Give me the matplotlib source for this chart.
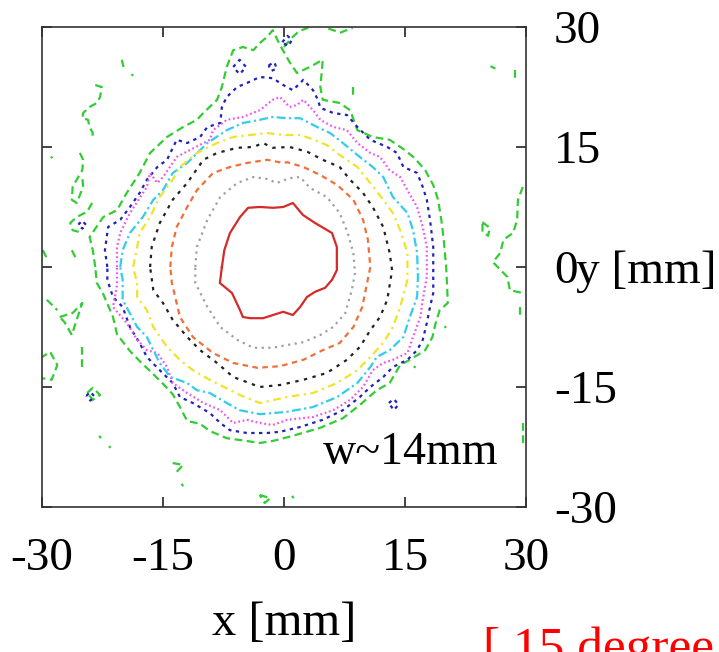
import matplotlib
matplotlib.use("Agg")
import numpy as np
import matplotlib.pyplot as plt

plt.rcParams['font.family'] = ['Liberation Serif', 'DejaVu Serif']

# contour lines of the beam spot, x / y in mm
red_level = [(-7.7, 0.0), (-7.4, 2.1), (-6.7, 4.25), (-5.45, 6.25), (-4.45, 7.4), (-3.0, 7.5),
             (-1.35, 7.4), (-0.1, 7.5), (1.1, 8.0), (2.35, 6.5), (3.85, 5.5), (5.95, 4.25),
             (6.55, 2.5), (6.55, -0.4), (5.95, -1.6), (5.1, -2.6), (3.85, -3.1), (2.85, -3.75),
             (2.0, -5.0), (1.1, -6.0), (-0.1, -5.6), (-1.35, -6.0), (-2.6, -6.4), (-4.2, -6.4),
             (-5.1, -6.25), (-5.45, -5.4), (-6.45, -3.25), (-7.95, -2.0), (-7.7, 0.0)]

gray_level = [(-11.0, 0.0), (-10.8, 2.5), (-9.5, 5.9), (-7.9, 8.75), (-5.8, 10.5), (-3.8, 11.25),
              (-2.1, 11.0), (-0.9, 10.5), (0.7, 11.1), (2.0, 11.25), (3.2, 9.9), (5.3, 8.75),
              (6.9, 6.75), (7.9, 4.25), (8.6, 1.75), (8.8, -0.75), (8.4, -2.9), (7.6, -5.75),
              (6.1, -7.5), (4.5, -8.5), (2.4, -9.4), (0.4, -9.75), (-1.4, -10.1), (-3.8, -10.1),
              (-5.8, -9.1), (-7.9, -7.5), (-9.5, -5.0), (-11.0, -2.0), (-11.0, 0.0)]

orange_level = [(-14.1, 0.0), (-13.9, 2.5), (-13.3, 5.0), (-12.0, 7.5), (-10.8, 9.6), (-8.8, 11.75),
                (-6.7, 12.5), (-4.6, 13.0), (-2.1, 13.4), (-0.1, 13.0), (0.4, 13.1), (2.4, 12.5),
                (4.5, 11.5), (6.6, 10.25), (8.6, 8.4), (9.8, 5.9), (10.4, 3.4), (10.7, 0.0),
                (10.3, -2.0), (9.7, -5.0), (8.6, -7.5), (6.9, -9.5), (4.8, -10.4), (2.4, -11.6),
                (-0.5, -12.4), (-3.3, -12.6), (-6.3, -12.0), (-8.8, -10.75), (-11.3, -8.75),
                (-12.9, -6.25), (-13.9, -2.0), (-14.1, 0.0)]

black_level = [(-16.6, 0.0), (-16.4, 2.5), (-15.4, 5.5), (-13.8, 8.4), (-12.0, 10.5), (-10.0, 13.4),
               (-8.3, 14.25), (-5.8, 14.9), (-3.8, 15.0), (-2.6, 15.5), (-1.4, 14.9), (0.7, 15.0),
               (2.9, 14.4), (4.8, 13.4), (6.9, 12.5), (8.2, 10.9), (9.8, 9.25), (11.0, 7.5),
               (12.3, 5.0), (13.1, 1.75), (13.4, -0.4), (12.8, -4.1), (11.9, -6.25), (10.7, -7.9),
               (9.4, -10.0), (7.8, -11.6), (5.3, -13.25), (2.4, -14.1), (-0.5, -14.75), (-3.0, -15.0),
               (-6.3, -13.75), (-8.3, -12.0), (-10.4, -10.4), (-12.0, -8.75), (-13.8, -6.6),
               (-15.0, -4.5), (-16.2, -2.9), (-16.6, 0.0)]

yellow_level = [(-18.7, 0.0), (-18.2, 2.5), (-17.9, 4.25), (-16.6, 6.25), (-15.4, 8.75), (-13.8, 10.9),
                (-12.9, 12.5), (-10.8, 14.25), (-8.3, 15.5), (-6.3, 16.25), (-4.2, 16.5), (-2.1, 16.75),
                (-0.1, 16.5), (2.0, 16.5), (3.2, 16.1), (5.3, 15.25), (6.9, 14.0), (9.1, 12.5),
                (10.7, 10.5), (12.3, 8.4), (13.5, 6.75), (14.4, 4.6), (15.3, 1.75), (15.3, -1.6),
                (14.4, -5.0), (13.5, -7.5), (12.3, -9.5), (10.7, -11.25), (9.1, -12.9), (6.6, -14.5),
                (3.6, -15.75), (0.4, -16.25), (-3.0, -17.0), (-5.5, -16.0), (-9.2, -14.1),
                (-11.3, -12.9), (-12.9, -11.6), (-14.5, -10.0), (-16.2, -7.5), (-17.0, -5.4),
                (-18.2, -3.75), (-18.2, -2.0), (-18.7, 0.0)]

cyan_level = [(-20.3, 0.0), (-20.0, 2.1), (-19.1, 4.25), (-17.5, 6.25), (-16.2, 8.4), (-15.0, 9.6),
              (-13.8, 11.75), (-12.0, 13.0), (-9.5, 15.5), (-7.1, 17.1), (-5.1, 18.0), (-3.0, 18.4),
              (-1.4, 18.75), (0.4, 18.6), (2.0, 18.6), (4.1, 17.5), (5.7, 16.75), (7.3, 15.5),
              (9.4, 13.75), (11.0, 12.5), (12.3, 11.25), (13.5, 8.75), (15.3, 6.75), (16.0, 4.6),
              (16.5, 1.75), (16.6, -1.25), (16.5, -3.75), (15.6, -6.25), (14.8, -8.75), (13.1, -10.4),
              (11.5, -11.25), (10.7, -12.5), (9.1, -14.5), (6.6, -16.25), (3.6, -17.5), (0.4, -18.1),
              (-3.0, -18.4), (-5.5, -17.9), (-7.1, -17.0), (-9.2, -15.75), (-10.8, -15.4),
              (-12.0, -14.5), (-14.1, -13.75), (-15.4, -12.0), (-16.2, -10.4), (-17.0, -8.75),
              (-18.2, -7.5), (-20.0, -4.1), (-20.0, -1.6), (-20.3, 0.0)]

magenta_level = [(-20.7, 0.0), (-20.7, 2.5), (-20.3, 4.25), (-19.1, 6.75), (-17.0, 10.0), (-16.6, 11.75),
                 (-15.7, 10.5), (-15.0, 11.25), (-13.3, 13.75), (-11.7, 14.6), (-9.2, 15.9), (-8.8, 17.1),
                 (-7.1, 18.4), (-5.1, 18.75), (-3.0, 19.6), (-1.4, 20.9), (-0.5, 21.25), (0.7, 20.0),
                 (1.6, 20.25), (2.4, 20.9), (3.6, 19.6), (4.5, 18.4), (6.1, 17.5), (7.8, 17.1),
                 (9.1, 15.5), (10.7, 14.25), (11.9, 13.75), (13.1, 12.1), (14.4, 11.25), (15.3, 9.6),
                 (16.5, 7.5), (17.2, 5.0), (17.7, 2.5), (17.7, -1.25), (17.2, -4.1), (16.9, -6.25),
                 (16.0, -8.75), (15.3, -10.75), (13.5, -11.6), (12.3, -12.0), (11.0, -12.9),
                 (9.8, -15.0), (8.2, -16.6), (6.1, -17.9), (3.6, -18.75), (0.4, -19.1), (-1.4, -19.75),
                 (-3.0, -19.5), (-4.6, -19.1), (-6.3, -19.5), (-7.9, -17.9), (-10.0, -17.0),
                 (-12.0, -15.75), (-13.8, -14.5), (-14.5, -12.5), (-15.7, -10.75), (-17.0, -10.4),
                 (-18.2, -9.1), (-19.5, -7.0), (-21.2, -5.0), (-20.7, -2.25), (-20.7, 0.0)]

blue_level = [(-21.9, 0.0), (-22.2, 2.1), (-21.8, 5.0), (-20.3, 5.9), (-19.1, 7.5), (-17.9, 9.25),
              (-17.0, 10.9), (-15.7, 12.5), (-14.5, 13.4), (-13.3, 15.9), (-12.0, 15.5), (-10.4, 16.25),
              (-9.5, 17.5), (-7.9, 18.0), (-7.7, 20.0), (-7.1, 21.25), (-5.8, 22.5), (-4.6, 23.0),
              (-3.0, 23.75), (-1.4, 23.6), (-0.1, 22.75), (1.1, 22.1), (2.4, 23.4), (3.6, 22.1),
              (4.2, 20.9), (4.5, 19.9), (6.1, 19.25), (7.8, 19.0), (9.1, 17.5), (10.7, 15.9),
              (12.8, 15.0), (14.0, 14.25), (14.8, 12.5), (16.5, 11.75), (17.2, 10.0), (17.7, 8.4),
              (18.1, 5.9), (18.5, 2.5), (18.5, -1.25), (18.5, -3.25), (18.1, -5.0), (17.7, -7.0),
              (17.2, -9.1), (16.5, -10.4), (15.3, -11.6), (13.5, -12.5), (12.3, -13.75), (10.7, -15.0),
              (9.4, -16.25), (7.3, -17.9), (4.8, -19.1), (2.0, -20.0), (-0.5, -20.6), (-2.1, -20.75),
              (-4.6, -20.75), (-6.7, -20.4), (-7.9, -19.5), (-9.2, -18.25), (-11.3, -17.0),
              (-12.9, -16.25), (-13.8, -14.5), (-15.4, -12.9), (-17.0, -11.25), (-17.9, -9.5),
              (-19.1, -7.5), (-20.0, -5.0), (-21.2, -3.75), (-21.9, -1.6), (-21.9, 0.0)]

blue_islands = [
    [(-6.3, 25.0), (-5.5, 25.9), (-4.7, 25.0), (-5.5, 24.1), (-6.3, 25.0)],
    [(-1.9, 25.2), (-1.2, 25.6), (-0.9, 24.8), (-1.6, 24.5), (-1.9, 25.2)],
    [(-0.2, 28.1), (0.4, 28.9), (1.0, 28.4), (0.5, 27.6), (-0.2, 28.1)],
    [(13.0, -17.0), (13.6, -16.5), (14.2, -17.2), (13.6, -17.9), (13.0, -17.0)],
    [(-24.5, -16.1), (-24.0, -15.6), (-23.5, -16.2), (-24.0, -16.7), (-24.5, -16.1)],
    [(-25.5, 5.3), (-25.0, 5.8), (-24.5, 5.2), (-25.0, 4.8), (-25.5, 5.3)],
]

green_level = [(-23.4, 0.0), (-23.7, 2.1), (-24.1, 3.75), (-22.4, 6.25), (-20.7, 7.1), (-19.5, 9.25),
               (-17.9, 11.75), (-16.6, 14.25), (-14.5, 16.25), (-12.5, 17.5), (-10.8, 18.4),
               (-10.0, 19.25), (-8.3, 20.9), (-7.7, 22.5), (-7.1, 25.0), (-6.3, 27.1), (-5.1, 27.5),
               (-3.8, 27.1), (-3.0, 28.0), (-2.1, 28.75), (-1.4, 29.6), (-0.5, 27.75), (0.7, 25.6),
               (1.6, 24.25), (3.2, 25.0), (4.8, 25.9), (4.7, 24.6), (4.5, 22.5), (4.8, 20.9),
               (6.9, 20.5), (8.2, 19.6), (9.1, 17.1), (11.0, 16.25), (13.1, 15.9), (15.0, 14.6),
               (16.2, 13.6), (17.5, 12.1), (18.5, 10.25), (19.1, 8.4), (19.5, 5.9), (19.8, 3.4),
               (20.1, 0.0), (20.2, -2.0), (20.3, -4.5), (19.3, -5.4), (18.8, -7.0), (18.4, -8.75),
               (17.5, -10.4), (15.6, -11.6), (14.4, -12.25), (13.1, -14.5), (11.5, -15.4),
               (9.4, -17.25), (7.3, -18.9), (4.5, -20.1), (1.1, -21.1), (-1.4, -21.75), (-3.0, -22.0),
               (-4.6, -21.75), (-7.1, -21.4), (-9.2, -20.5), (-10.4, -19.6), (-12.0, -19.25),
               (-12.9, -17.5), (-13.8, -15.9), (-15.0, -14.6), (-16.2, -13.4), (-17.9, -11.75),
               (-19.1, -10.5), (-20.7, -8.4), (-21.2, -6.25), (-22.4, -3.4), (-23.2, -2.0), (-23.4, 0.0)]

green_islands = [
    [(-23.4, 22.75), (-22.6, 22.5), (-22.8, 21.25), (-23.2, 20.5), (-24.1, 20.0), (-24.9, 19.25),
     (-25.0, 18.6), (-24.3, 18.4), (-24.1, 17.5), (-23.7, 16.75), (-23.8, 15.9)],
    [(-25.3, 14.25), (-24.9, 13.4), (-25.0, 12.1), (-25.7, 10.9), (-26.2, 10.0), (-26.3, 8.4),
     (-25.7, 8.0), (-24.9, 10.0), (-25.0, 11.25)],
    [(-23.8, 8.0), (-24.4, 6.9), (-25.7, 6.25), (-26.5, 5.5), (-26.2, 4.6), (-24.9, 4.25)],
    [(-20.1, 25.9), (-19.9, 25.0)],
    [(-18.9, 24.1), (-18.7, 23.9)],
    [(-28.9, 13.8), (-28.7, 13.6)],
    [(-29.9, 2.1), (-29.4, 1.1)],
    [(-26.3, 2.1), (-25.7, 0.9)],
    [(-29.4, -4.1), (-28.1, -5.4)],
    [(-27.8, -6.25), (-26.2, -5.75), (-25.0, -4.5), (-25.7, -6.6), (-26.3, -8.5), (-27.2, -6.9),
     (-27.8, -6.25)],
    [(-25.0, -10.0), (-25.0, -12.5)],
    [(-30.2, -11.4), (-29.0, -10.6), (-28.1, -12.25), (-28.8, -14.1), (-30.0, -13.9)],
    [(-24.4, -15.75), (-23.7, -15.1), (-22.8, -16.0), (-23.7, -16.6), (-24.4, -15.75)],
    [(-22.9, -21.1), (-22.7, -21.4)],
    [(-21.7, -22.4), (-21.5, -22.6)],
    [(-13.8, -24.5), (-12.5, -24.75), (-13.3, -25.6)],
    [(-12.7, -27.1), (-12.5, -27.4)],
    [(-3.0, -28.5), (-1.7, -28.9), (-2.4, -29.5), (-3.0, -28.5)],
    [(1.0, -28.6), (1.2, -28.9)],
    [(0.0, 27.5), (0.9, 28.6), (1.9, 29.5), (3.0, 29.9)],
    [(5.5, 29.8), (7.0, 29.3), (8.5, 29.9)],
    [(8.6, 22.5), (8.6, 21.5)],
    [(25.6, 25.1), (26.2, 24.8)],
    [(28.6, 24.6), (28.6, 23.4)],
    [(29.6, 10.0), (29.0, 8.4), (28.9, 5.9), (28.4, 4.25), (27.2, 3.4), (26.8, 1.75), (25.9, 0.6),
     (27.7, -1.25), (28.0, -2.9), (29.6, -3.25)],
    [(24.6, 5.6), (25.5, 4.9), (25.3, 3.9), (24.6, 4.4), (24.6, 5.6)],
    [(29.3, -5.0), (29.3, -6.25)],
    [(29.6, -19.5), (29.6, -22.5)],
    [(19.9, -7.4), (20.1, -7.6)],
    [(16.1, -12.4), (16.3, -12.6)],
]

x_ticks = [-30, -15, 0, 15, 30]
y_ticks = [-30, -15, 0, 15, 30]

fig = plt.figure(figsize=(7.19, 6.52), dpi=100)
ax = fig.add_axes([0.0584, 0.2224, 0.6732, 0.7362])

levels = [
    (green_level, '#33cc33', (0, (3.5, 2))),
    (blue_level, '#2222bb', (0, (1.5, 2))),
    (magenta_level, '#ee55ee', (0, (0.8, 1.2))),
    (cyan_level, '#33ccee', (0, (4, 1.5, 1, 1.5))),
    (yellow_level, '#f2e22a', (0, (3.5, 2, 1, 2))),
    (black_level, '#222222', (0, (1.5, 2.5))),
    (orange_level, '#f07038', (0, (2.5, 2))),
    (gray_level, '#a0a0a0', (0, (1, 2))),
    (red_level, '#d42a2a', '-'),
]

for pts, col, ls in levels:
    p = np.array(pts)
    ax.plot(p[:, 0], p[:, 1], color=col, linestyle=ls, lw=1.6)

for pts in green_islands:
    p = np.array(pts)
    ax.plot(p[:, 0], p[:, 1], color='#33cc33', linestyle=(0, (3.5, 2)), lw=1.6)
for pts in blue_islands:
    p = np.array(pts)
    ax.plot(p[:, 0], p[:, 1], color='#2222bb', linestyle=(0, (1.5, 2)), lw=1.6)

ax.set_xlim(-30, 30)
ax.set_ylim(-30, 30)
ax.set_xticks(x_ticks)
ax.set_yticks(y_ticks)
ax.set_xticklabels([str(v) for v in x_ticks])
ax.set_yticklabels([str(v) for v in y_ticks])
ax.tick_params(axis='both', direction='in', length=7, width=1.2, color='#222222',
               top=True, right=True, labelsize=34)
ax.tick_params(axis='x', pad=22)
ax.tick_params(axis='y', left=True, labelleft=False, labelright=True, pad=20)
for s in ax.spines.values():
    s.set_linewidth(1.2)
    s.set_color('#333333')

ax.set_xlabel('x [mm]', fontsize=35)
ax.xaxis.set_label_coords(0.5, -0.195)
ax.text(1.103, 0.5, 'y [mm]', transform=ax.transAxes, fontsize=34,
        ha='left', va='center_baseline')

ax.text(4.8, -24.6, 'w~14mm', fontsize=33, ha='left', va='baseline')

# caption below the chart, partly outside the picture as in the original slide
fig.text(483 / 719, 1 - 662 / 652, '[ 15 degree ]', color='red', fontsize=37,
         ha='left', va='baseline')

fig.savefig('out.png', dpi=100)
